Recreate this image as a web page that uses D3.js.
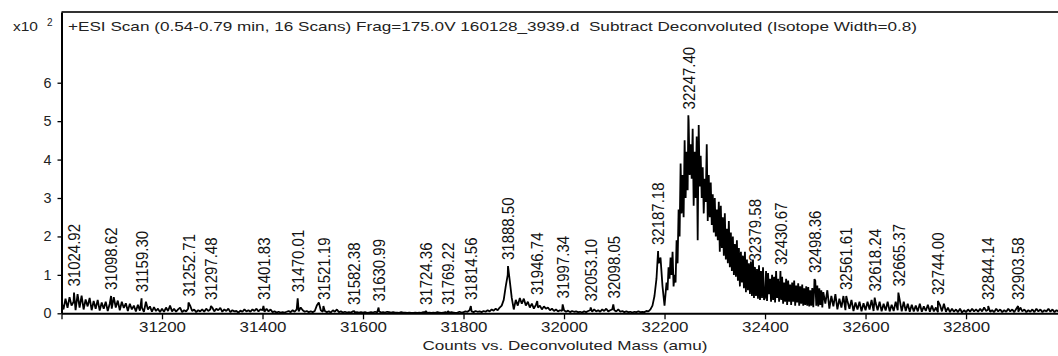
<!DOCTYPE html>
<html>
<head>
<meta charset="utf-8">
<script src="https://cdn.jsdelivr.net/npm/d3@7"></script>
<style>
  html, body { margin: 0; padding: 0; background: #fff; }
  svg { display: block; font-family: "Liberation Sans", Arial, sans-serif; }
</style>
</head>
<body>
<div id="chart"></div>
<script>
// Deconvoluted ESI spectrum, counts in units of x10^2
const titleText = '+ESI Scan (0.54-0.79 min, 16 Scans) Frag=175.0V 160128_3939.d  Subtract Deconvoluted (Isotope Width=0.8)';
const xAxisTitle = 'Counts vs. Deconvoluted Mass (amu)';
const xTicks = [31000, 31200, 31400, 31600, 31800, 32000, 32200, 32400, 32600, 32800];
const yTicks = [0, 1, 2, 3, 4, 5, 6];

// profile sampled every 4 amu starting at 31000
const specStart = 31000;
const specStep = 4;
const specValues = [
  0.3, 0.1, 0.38, 0.14, 0.42, 0.2, 0.3, 0.08, 0.5, 0.15, 0.46, 0.1, 0.36, 0.18, 0.4, 0.08, 0.32, 0.12, 0.35, 0.07, 0.28, 0.12, 0.3, 0.06, 0.25,
  0.12, 0.42, 0.15, 0.33, 0.08, 0.3, 0.14, 0.26, 0.06, 0.25, 0.1, 0.2, 0.05, 0.22, 0.07, 0.15, 0.04, 0.3, 0.1, 0.18, 0.04, 0.16, 0.06, 0.12, 0.03,
  0.12, 0.04, 0.15, 0.06, 0.2, 0.05, 0.12, 0.04, 0.1, 0.15, 0.03, 0.08, 0.05, 0.12, 0.2, 0.06, 0.1, 0.03, 0.08, 0.05, 0.1, 0.04, 0.12, 0.06, 0.1,
  0.15, 0.05, 0.12, 0.08, 0.14, 0.04, 0.1, 0.06, 0.12, 0.03, 0.08, 0.05, 0.06, 0.02, 0.07, 0.04, 0.1, 0.05, 0.08, 0.04, 0.1, 0.06, 0.12, 0.05, 0.1,
  0.08, 0.04, 0.12, 0.05, 0.1, 0.03, 0.05, 0.02, 0.04, 0.02, 0.03, 0.02, 0.04, 0.06, 0.03, 0.08, 0.04, 0.1, 0.05, 0.15, 0.08, 0.04, 0.06, 0.03, 0.05,
  0.03, 0.06, 0.2, 0.28, 0.08, 0.04, 0.06, 0.03, 0.05, 0.02, 0.08, 0.04, 0.1, 0.03, 0.05, 0.02, 0.04, 0.02, 0.03, 0.02, 0.05, 0.02, 0.03, 0.02, 0.03,
  0.02, 0.03, 0.01, 0.02, 0.03, 0.02, 0.04, 0.02, 0.05, 0.02, 0.03, 0.02, 0.04, 0.03, 0.02, 0.03, 0.02, 0.02, 0.01, 0.03, 0.02, 0.02, 0.01, 0.02, 0.01,
  0.01, 0.02, 0.01, 0.02, 0.01, 0.03, 0.02, 0.01, 0.02, 0.01, 0.02, 0.01, 0.03, 0.02, 0.01, 0.02, 0.03, 0.01, 0.02, 0.03, 0.02, 0.01, 0.02, 0.04, 0.02,
  0.03, 0.05, 0.04, 0.08, 0.05, 0.03, 0.06, 0.04, 0.05, 0.03, 0.06, 0.04, 0.08, 0.05, 0.1, 0.07, 0.12, 0.08, 0.15, 0.2, 0.35, 0.7, 1.0, 0.85, 0.4,
  0.1, 0.35, 0.2, 0.4, 0.25, 0.38, 0.2, 0.3, 0.15, 0.25, 0.12, 0.22, 0.15, 0.2, 0.1, 0.18, 0.12, 0.15, 0.08, 0.12, 0.06, 0.1, 0.05, 0.08, 0.06,
  0.08, 0.04, 0.07, 0.03, 0.06, 0.04, 0.05, 0.03, 0.04, 0.02, 0.05, 0.03, 0.06, 0.08, 0.04, 0.1, 0.05, 0.08, 0.04, 0.1, 0.06, 0.12, 0.05, 0.08, 0.1,
  0.08, 0.05, 0.1, 0.04, 0.06, 0.03, 0.05, 0.03, 0.04, 0.02, 0.04, 0.03, 0.05, 0.03, 0.04, 0.03, 0.06, 0.05, 0.1, 0.2, 0.45, 0.9, 1.3, 1.45, 0.7,
  0.2, 0.75, 1.2, 1.45, 1.6, 0.8, 1.9, 2.7, 3.9, 2.5, 4.5, 3.0, 5.0, 3.6, 4.8, 2.8, 4.6, 1.9, 4.9, 3.3, 3.8, 4.4, 2.4, 3.6, 2.3,
  3.0, 2.0, 2.7, 1.6, 2.8, 1.5, 2.2, 1.3, 2.4, 1.1, 1.8, 0.95, 1.9, 0.7, 1.5, 0.8, 1.6, 0.55, 1.3, 0.5, 1.4, 0.4, 1.15, 0.45, 1.2,
  0.4, 1.1, 0.32, 1.0, 0.5, 0.95, 0.3, 1.1, 0.28, 0.9, 0.35, 0.8, 0.25, 0.95, 0.22, 0.75, 0.35, 0.85, 0.2, 0.7, 0.3, 0.78, 0.2, 0.65, 0.25,
  0.8, 0.22, 0.72, 0.18, 0.55, 0.25, 0.6, 0.12, 0.45, 0.18, 0.5, 0.1, 0.38, 0.15, 0.45, 0.08, 0.32, 0.12, 0.35, 0.06, 0.28, 0.1, 0.3, 0.05, 0.26,
  0.08, 0.3, 0.1, 0.35, 0.06, 0.28, 0.08, 0.3, 0.05, 0.25, 0.07, 0.3, 0.05, 0.22, 0.06, 0.3, 0.08, 0.35, 0.05, 0.3, 0.06, 0.25, 0.04, 0.22, 0.05,
  0.2, 0.05, 0.25, 0.04, 0.18, 0.06, 0.22, 0.04, 0.2, 0.05, 0.15, 0.03, 0.22, 0.05, 0.25, 0.04, 0.15, 0.03, 0.12, 0.04, 0.1, 0.03, 0.12, 0.02, 0.08,
  0.03, 0.1, 0.04, 0.12, 0.05, 0.1, 0.04, 0.12, 0.05, 0.15, 0.06, 0.1, 0.04, 0.08, 0.03, 0.12, 0.05, 0.1, 0.03, 0.08, 0.04, 0.12, 0.05, 0.1, 0.03,
  0.12, 0.04, 0.15, 0.05, 0.1, 0.03, 0.08, 0.04, 0.1, 0.03, 0.12, 0.05, 0.1, 0.03, 0.08, 0.05, 0.12, 0.04, 0.1, 0.03, 0.08, 0.05, 0.1, 0.04, 0.08
];

// main envelope read at 2 amu, replaces the coarse samples over its span
const mainStart = 32200;
const mainStep = 2;
const mainValues = [
  0.2, 0.5, 0.8, 0.6, 1.2, 0.9, 1.45, 1.0, 1.6, 0.7, 1.0, 0.8, 1.9, 1.3, 2.7, 2.0, 3.9, 2.6, 3.6, 2.5,
  4.5, 3.0, 4.2, 3.2, 5.0, 3.6, 4.4, 3.5, 4.8, 2.8, 4.2, 3.0, 4.6, 1.9, 4.9, 3.3, 4.1, 3.0, 3.8, 2.6,
  3.5, 2.9, 4.4, 2.4, 3.6, 2.5, 3.4, 2.3, 3.1, 2.1,
  3.0, 2.0, 2.7, 1.9, 2.9, 1.6, 2.8, 1.7, 2.5, 1.5, 2.6, 1.4, 2.2, 1.3, 2.4, 1.2, 2.1, 1.1, 2.0, 1.0,
  1.8, 0.95, 1.9, 0.85, 1.7, 0.7, 1.6, 0.8, 1.5, 0.65, 1.6, 0.55, 1.4, 0.6, 1.3, 0.5, 1.35, 0.45, 1.4, 0.4,
  1.2, 0.45, 1.15, 0.38, 1.25, 0.35, 1.1, 0.4, 1.2, 0.35,
  0.4, 1.1, 0.32, 1.05, 0.5, 0.9, 0.3, 1.0, 0.35, 0.95, 0.28, 1.1, 0.4, 0.9, 0.3, 0.85, 0.35, 0.95, 0.25, 0.8,
  0.3, 0.9, 0.22, 0.85, 0.3, 0.75, 0.22, 0.8, 0.3, 0.85, 0.2, 0.72, 0.28, 0.78, 0.2, 0.7, 0.25, 0.75, 0.2, 0.65,
  0.22, 0.7, 0.2, 0.68, 0.18, 0.6, 0.2, 0.66, 0.16, 0.7,
  0.85, 0.2, 0.72, 0.18, 0.65, 0.22, 0.6, 0.15, 0.55
];

// labelled peaks: mass and apex height (x10^2 counts)
const peakMasses = [
  31024.92, 31098.62, 31159.30, 31252.71, 31297.48, 31401.83, 31470.01, 31521.19, 31582.38, 31630.99,
  31724.36, 31769.22, 31814.56, 31888.50, 31946.74, 31997.34, 32053.10, 32098.05, 32187.18, 32247.40,
  32379.58, 32430.67, 32498.36, 32561.61, 32618.24, 32665.37, 32744.00, 32844.14, 32903.58
];
const peakHeights = [
  0.54, 0.45, 0.39, 0.28, 0.19, 0.19, 0.39, 0.19, 0.06, 0.15,
  0.06, 0.06, 0.19, 1.23, 0.32, 0.23, 0.15, 0.23, 1.62, 5.15,
  1.19, 1.10, 0.89, 0.45, 0.41, 0.54, 0.32, 0.19, 0.19
];

const width = 1058;
const height = 356;

const x = d3.scaleLinear().domain([31000, 32983]).range([61.5, 1058]);
const y = d3.scaleLinear().domain([0, 7.84]).range([313.3, 12]);

const svg = d3.select('#chart').append('svg')
  .attr('width', width)
  .attr('height', height);

svg.append('defs').append('clipPath')
  .attr('id', 'plot-clip')
  .append('rect')
  .attr('x', x.range()[0])
  .attr('y', 0)
  .attr('width', x.range()[1] - x.range()[0])
  .attr('height', y(0) + 1);

// merge coarse profile, fine main envelope and labelled apexes
const mainEnd = mainStart + (mainValues.length - 1) * mainStep;
const coarse = specValues.map((v, i) => ({ m: specStart + i * specStep, v }))
  .filter(d => d.m < mainStart || d.m > mainEnd);
const fine = mainValues.map((v, i) => ({ m: mainStart + i * mainStep, v }));
const apexes = peakMasses.map((m, i) => ({ m, v: peakHeights[i] }));
const points = coarse.concat(fine, apexes).sort((a, b) => a.m - b.m);

const line = d3.line()
  .x(d => x(d.m))
  .y(d => y(d.v));

svg.append('path')
  .datum(points)
  .attr('clip-path', 'url(#plot-clip)')
  .attr('fill', 'none')
  .attr('stroke', '#000')
  .attr('stroke-width', 1.8)
  .attr('stroke-linejoin', 'bevel')
  .attr('d', line);

// top frame line
svg.append('line')
  .attr('x1', x.range()[0]).attr('x2', width)
  .attr('y1', y.range()[1]).attr('y2', y.range()[1])
  .attr('stroke', '#333')
  .attr('stroke-width', 2);

// x axis
const xAxis = svg.append('g')
  .attr('transform', `translate(0,${y(0)})`)
  .call(d3.axisBottom(x)
    .tickValues(xTicks)
    .tickSize(6)
    .tickSizeOuter(0)
    .tickPadding(3)
    .tickFormat(d => d === 31000 ? '' : d3.format('d')(d)));
xAxis.select('.domain').attr('stroke', '#000').attr('stroke-width', 2);
xAxis.selectAll('.tick line').attr('stroke', '#000').attr('stroke-width', 1.3);
xAxis.selectAll('.tick text')
  .attr('font-size', 14)
  .attr('fill', '#222')
  .attr('textLength', 47)
  .attr('lengthAdjust', 'spacingAndGlyphs');

// y axis
const yAxis = svg.append('g')
  .attr('transform', `translate(${x.range()[0]},0)`)
  .call(d3.axisLeft(y)
    .tickValues(yTicks)
    .tickSize(4)
    .tickSizeOuter(0)
    .tickPadding(6)
    .tickFormat(d3.format('d')));
yAxis.select('.domain').attr('stroke', '#000').attr('stroke-width', 2);
yAxis.selectAll('.tick line').attr('stroke', '#000').attr('stroke-width', 1.3);
yAxis.selectAll('.tick text')
  .attr('font-size', 14)
  .attr('fill', '#222')
  .attr('textLength', 8)
  .attr('lengthAdjust', 'spacingAndGlyphs');

// scale factor tag
const tag = svg.append('text')
  .attr('x', 13)
  .attr('y', 31)
  .attr('font-size', 13)
  .attr('fill', '#222');
tag.append('tspan').attr('textLength', 25).attr('lengthAdjust', 'spacingAndGlyphs').text('x10');
tag.append('tspan').attr('x', 47).attr('dy', -5).attr('font-size', 10).text('2');

// scan title
svg.append('text')
  .attr('x', 68)
  .attr('y', 31)
  .attr('font-size', 13)
  .attr('fill', '#222')
  .style('white-space', 'pre')
  .attr('textLength', 849)
  .attr('lengthAdjust', 'spacingAndGlyphs')
  .text(titleText);

// axis title
svg.append('text')
  .attr('x', 565)
  .attr('y', 350)
  .attr('text-anchor', 'middle')
  .attr('font-size', 13)
  .attr('fill', '#222')
  .attr('textLength', 285)
  .attr('lengthAdjust', 'spacingAndGlyphs')
  .text(xAxisTitle);

// peak labels, rotated above each apex
svg.append('g')
  .selectAll('text')
  .data(peakMasses)
  .join('text')
  .attr('transform', (m, i) => `translate(${x(m)},${y(peakHeights[i]) - 6}) rotate(-90) scale(1,1.15)`)
  .attr('dy', '0.36em')
  .attr('font-size', 15)
  .attr('fill', '#111')
  .text(m => m.toFixed(2));
</script>
</body>
</html>
